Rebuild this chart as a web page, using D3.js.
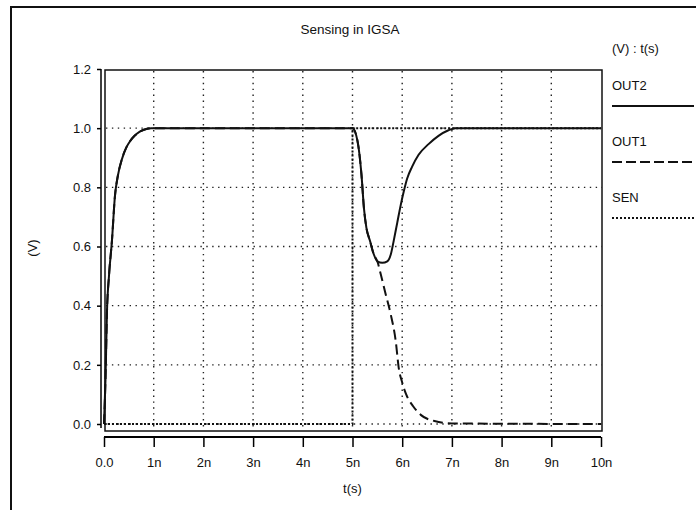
<!DOCTYPE html>
<html>
<head>
<meta charset="utf-8">
<script src="https://cdn.jsdelivr.net/npm/d3@7"></script>
<style>
  body { margin: 0; background: #fff; }
  text { font-family: "Liberation Sans", Arial, sans-serif; fill: #111; }
</style>
</head>
<body>
<div id="chart"></div>
<script>
var xTicks = [0, 1, 2, 3, 4, 5, 6, 7, 8, 9, 10];
var xTickLabels = ['0.0', '1n', '2n', '3n', '4n', '5n', '6n', '7n', '8n', '9n', '10n'];
var yTicks = [0, 0.2, 0.4, 0.6, 0.8, 1.0, 1.2];
var yTickLabels = ['0.0', '0.2', '0.4', '0.6', '0.8', '1.0', '1.2'];
var gridY = [0, 0.2, 0.4, 0.6, 0.8, 1.0];
var gridX = [1, 2, 3, 4, 5, 6, 7, 8, 9];

// OUT2 (solid)
var out2Time = [0, 0.03, 0.06, 0.1, 0.16, 0.22, 0.28, 0.36, 0.45, 0.52, 0.62, 0.72, 0.85, 0.95,
  5.0, 5.1, 5.18, 5.23, 5.28, 5.35, 5.43, 5.5, 5.6, 5.7, 5.77, 5.83, 5.9, 5.97, 6.03, 6.1,
  6.2, 6.33, 6.53, 6.73, 6.93, 7.07, 10];
var out2 = [0, 0.15, 0.38, 0.5, 0.62, 0.77, 0.84, 0.895, 0.935, 0.955, 0.975, 0.988, 0.997, 1.0,
  1.0, 0.957, 0.844, 0.73, 0.663, 0.62, 0.573, 0.55, 0.545, 0.55, 0.573, 0.62, 0.68, 0.74, 0.785, 0.83,
  0.87, 0.91, 0.946, 0.974, 0.993, 1.0, 1.0];

// OUT1 (dashed)
var out1Time = [0, 0.03, 0.06, 0.1, 0.16, 0.22, 0.28, 0.36, 0.45, 0.52, 0.62, 0.72, 0.85, 0.95,
  5.0, 5.1, 5.18, 5.23, 5.28, 5.35, 5.43, 5.5, 5.57, 5.67, 5.77, 5.87, 5.93, 6.0, 6.08,
  6.22, 6.38, 6.65, 7.0, 10];
var out1 = [0, 0.15, 0.38, 0.5, 0.62, 0.77, 0.84, 0.895, 0.935, 0.955, 0.975, 0.988, 0.997, 1.0,
  1.0, 0.957, 0.844, 0.73, 0.663, 0.62, 0.573, 0.55, 0.505, 0.437, 0.37, 0.28, 0.19, 0.14, 0.1,
  0.06, 0.03, 0.01, 0.002, 0];

// SEN (dotted)
var senTime = [0, 5, 5, 10];
var sen = [0, 0, 1, 1];

var width = 696, height = 510;
var svg = d3.select('#chart').append('svg')
  .attr('width', width)
  .attr('height', height)
  .style('background-color', '#fff');

var x = d3.scaleLinear().domain([0, 10]).range([104, 601]);
var y = d3.scaleLinear().domain([0, 1.2]).range([424, 69]);

// outer border
svg.append('path')
  .attr('d', 'M11,510V7H696')
  .attr('fill', 'none')
  .attr('stroke', '#111')
  .attr('stroke-width', 2);

svg.append('text')
  .attr('x', 350).attr('y', 34)
  .attr('text-anchor', 'middle')
  .attr('font-size', '13.5px')
  .text('Sensing in IGSA');

// grid
svg.append('g').selectAll('line').data(gridX).enter().append('line')
  .attr('x1', function(d) { return x(d); })
  .attr('x2', function(d) { return x(d); })
  .attr('y1', 71).attr('y2', 430)
  .attr('stroke', '#222')
  .attr('stroke-width', 1.4)
  .attr('stroke-dasharray', '1.4,4.5');

svg.append('g').selectAll('line').data(gridY).enter().append('line')
  .attr('x1', 106).attr('x2', 602)
  .attr('y1', function(d) { return y(d); })
  .attr('y2', function(d) { return y(d); })
  .attr('stroke', '#222')
  .attr('stroke-width', 1.4)
  .attr('stroke-dasharray', '1.4,4.5');

// frame
svg.append('rect')
  .attr('x', 105).attr('y', 70)
  .attr('width', 497).attr('height', 361)
  .attr('fill', 'none')
  .attr('stroke', '#111')
  .attr('stroke-width', 1.5);

// axes
var yAxis = d3.axisLeft(y).tickValues(yTicks).tickSize(4).tickPadding(6)
  .tickFormat(function(d, i) { return yTickLabels[i]; });
var gy = svg.append('g').attr('transform', 'translate(101,0)').call(yAxis);
gy.selectAll('text').attr('font-size', '13px').attr('font-family', '"Liberation Sans", Arial, sans-serif');

var xAxis = d3.axisBottom(x).tickValues(xTicks).tickSize(10).tickPadding(11)
  .tickFormat(function(d, i) { return xTickLabels[i]; });
var gx = svg.append('g').attr('transform', 'translate(0,437)').call(xAxis);
gx.selectAll('text').attr('font-size', '13px').attr('font-family', '"Liberation Sans", Arial, sans-serif');
gy.select('.domain').attr('d', 'M101,69V428').attr('transform', 'translate(-101,0)').attr('stroke-width', 1.5);
gx.select('.domain').attr('d', 'M' + x(0) + ',0H' + x(10)).attr('stroke-width', 2);
svg.selectAll('.tick line').attr('stroke-width', 1.5);

svg.append('text')
  .attr('transform', 'translate(37,248) rotate(-90)')
  .attr('text-anchor', 'middle')
  .attr('font-size', '13px')
  .text('(V)');

svg.append('text')
  .attr('x', x(5)).attr('y', 493)
  .attr('text-anchor', 'middle')
  .attr('font-size', '13px')
  .text('t(s)');

var line = d3.line()
  .x(function(d) { return x(d[0]); })
  .y(function(d) { return y(d[1]); })
  .curve(d3.curveMonotoneX);

svg.append('path')
  .datum(d3.zip(senTime, sen))
  .attr('d', d3.line().x(function(d) { return x(d[0]); }).y(function(d) { return y(d[1]); }))
  .attr('fill', 'none')
  .attr('stroke', '#111')
  .attr('stroke-width', 2)
  .attr('stroke-dasharray', '2,2');

svg.append('path')
  .datum(d3.zip(out1Time, out1))
  .attr('d', line)
  .attr('fill', 'none')
  .attr('stroke', '#111')
  .attr('stroke-width', 2)
  .attr('stroke-dasharray', '10,5');

svg.append('path')
  .datum(d3.zip(out2Time, out2))
  .attr('d', line)
  .attr('fill', 'none')
  .attr('stroke', '#111')
  .attr('stroke-width', 2);

// legend
var legend = svg.append('g');
legend.append('text').attr('x', 612).attr('y', 53).attr('font-size', '13px').text('(V) : t(s)');
var items = [
  { name: 'OUT2', dash: null },
  { name: 'OUT1', dash: '10,4' },
  { name: 'SEN', dash: '2,2' }
];
items.forEach(function(d, i) {
  var y0 = 90 + i * 56;
  legend.append('text').attr('x', 612).attr('y', y0).attr('font-size', '13px').text(d.name);
  legend.append('line')
    .attr('x1', 612).attr('x2', 694)
    .attr('y1', y0 + 16).attr('y2', y0 + 16)
    .attr('stroke', '#111')
    .attr('stroke-width', 2)
    .attr('stroke-dasharray', d.dash);
});
</script>
</body>
</html>
